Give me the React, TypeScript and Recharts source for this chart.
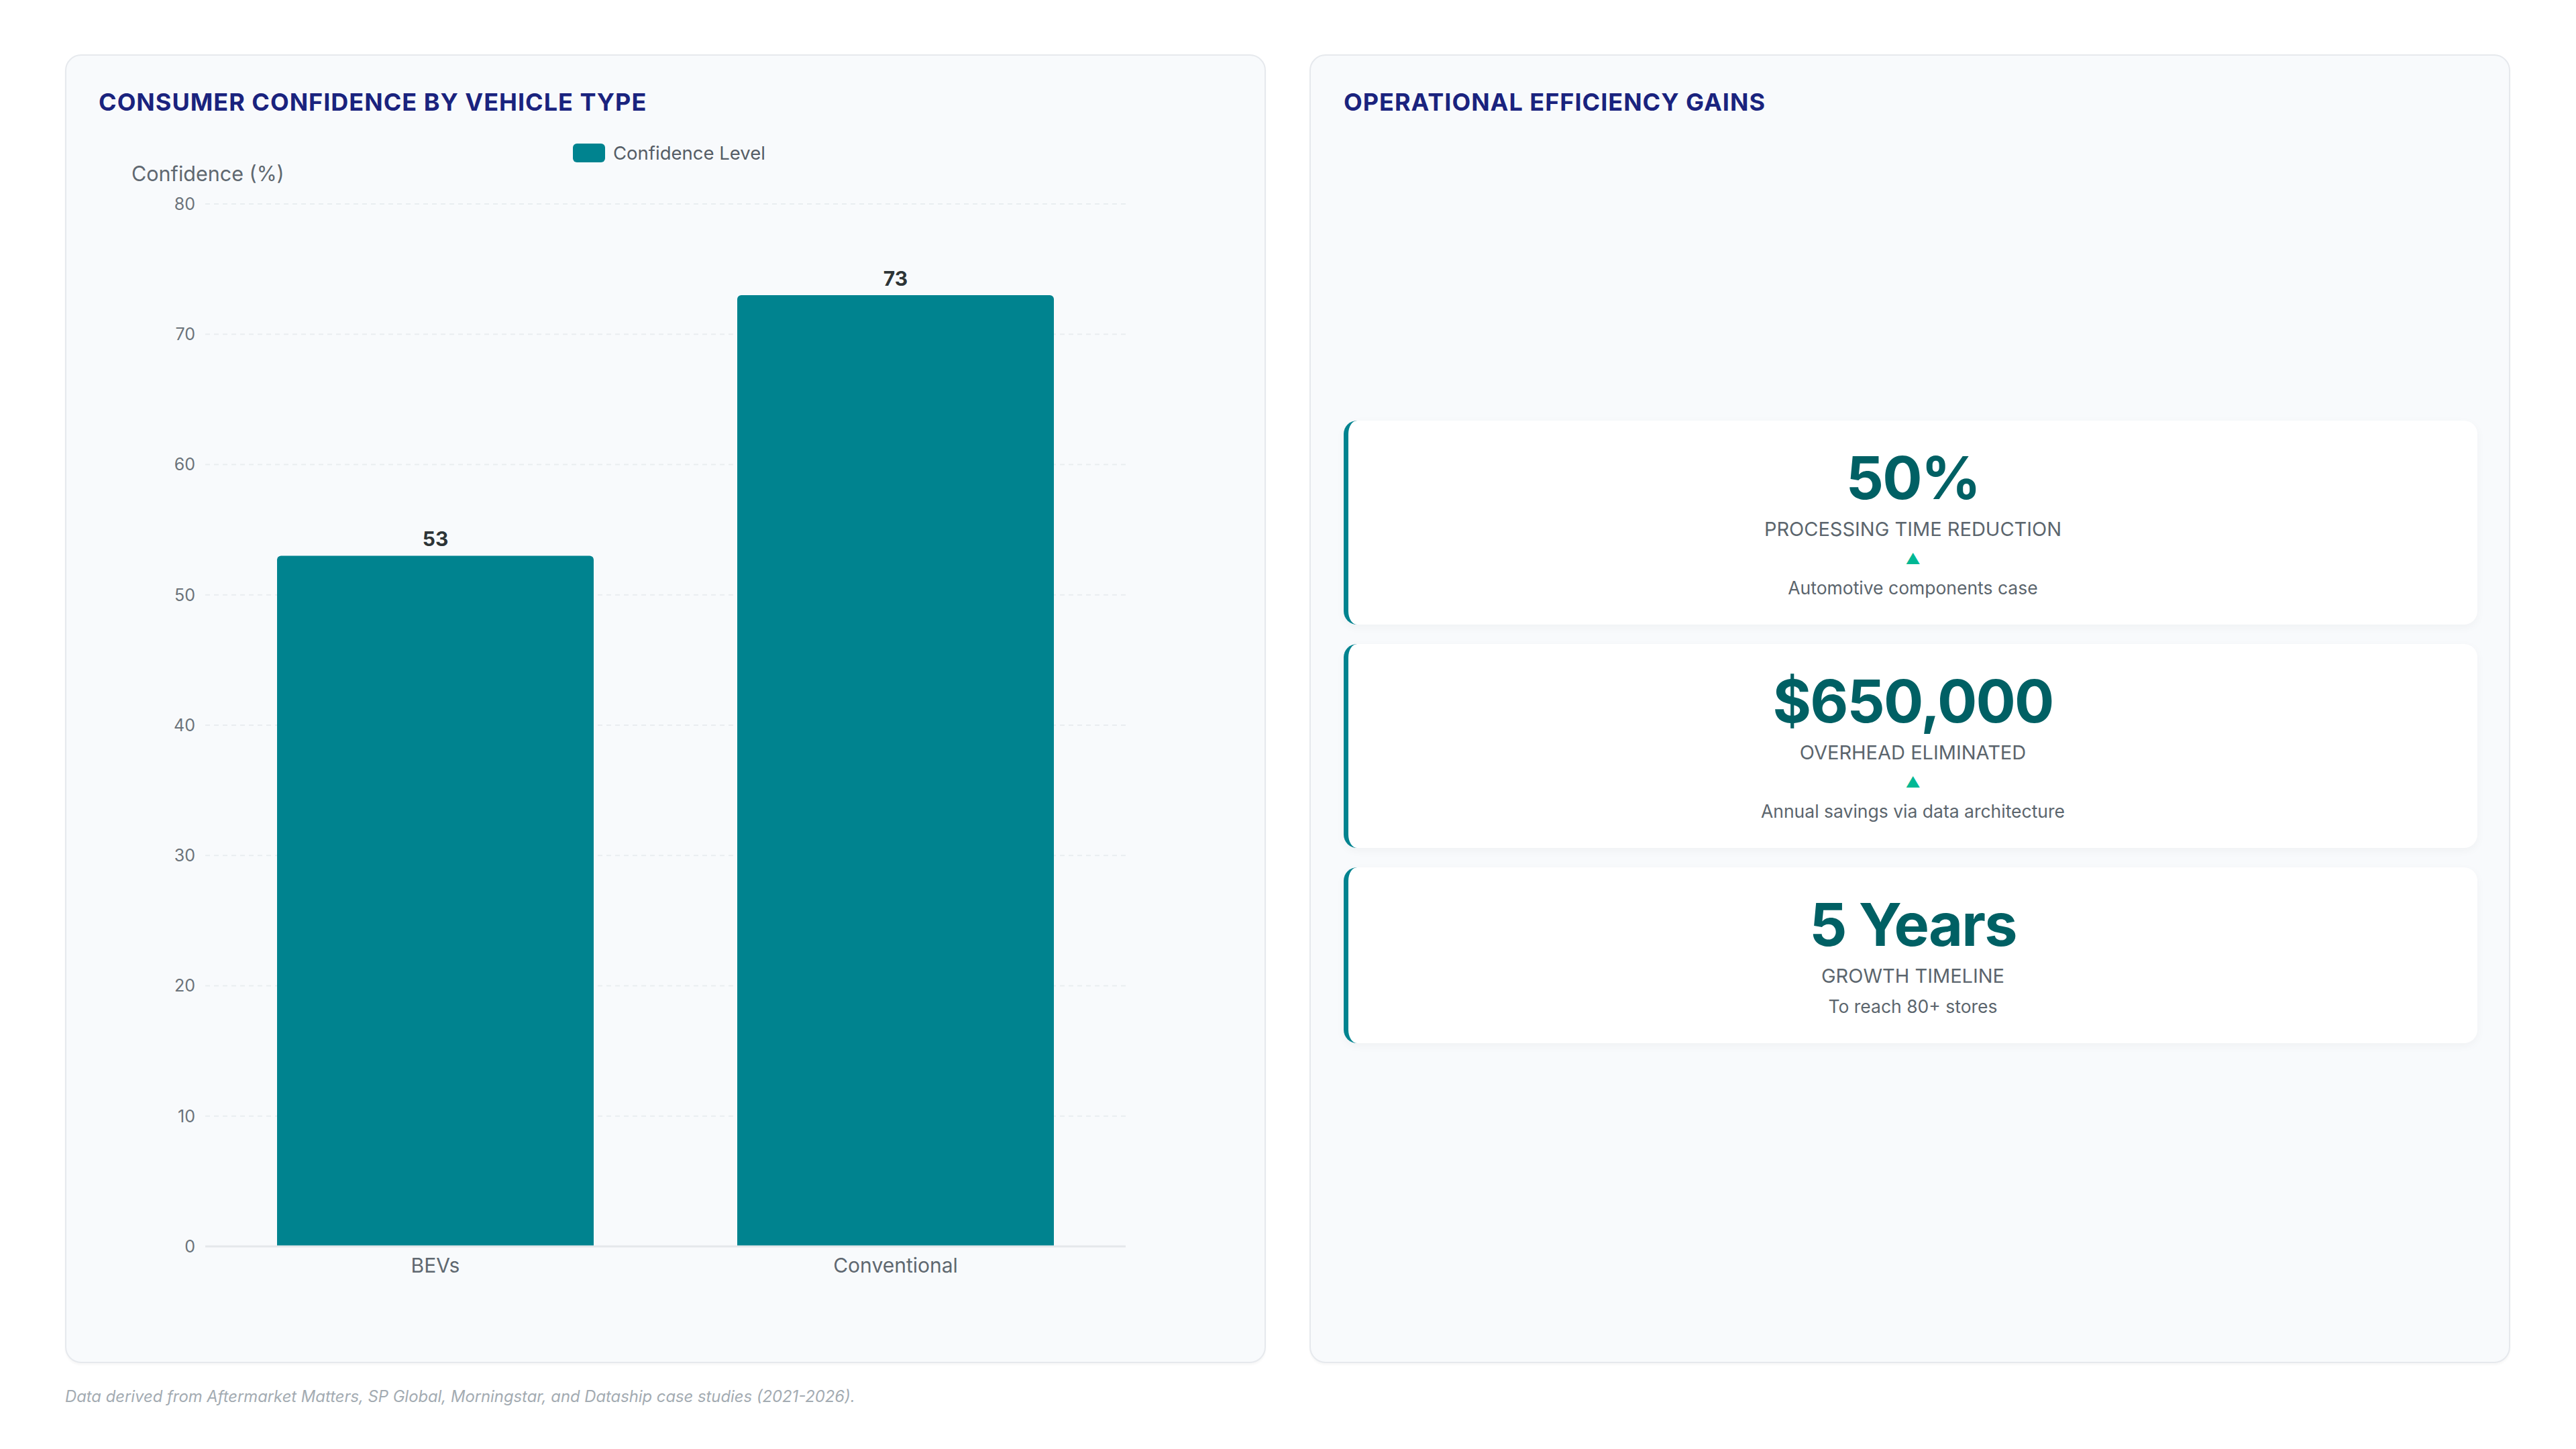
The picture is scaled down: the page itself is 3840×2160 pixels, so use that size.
import { Bar, BarChart, CartesianGrid, LabelList, Legend, XAxis, YAxis } from 'recharts';

const CATEGORIES = ['BEVs', 'Conventional'];
const CONFIDENCE = [53, 73];
const Y_TICKS = [0, 10, 20, 30, 40, 50, 60, 70, 80];
const SERIES_NAME = 'Confidence Level';

const KPI_VALUES = ['50%', '$650,000', '5 Years'];
const KPI_LABELS = ['PROCESSING TIME REDUCTION', 'OVERHEAD ELIMINATED', 'GROWTH TIMELINE'];
const KPI_NOTES = ['Automotive components case', 'Annual savings via data architecture', 'To reach 80+ stores'];
const KPI_TREND = [true, true, false];

const TEAL = '#00838f';
const NAVY = '#1a237e';
const FONT = 'Inter, "Noto Sans", sans-serif';

const chartData = CATEGORIES.map((name, i) => ({ name, value: CONFIDENCE[i] }));

const panelStyle: React.CSSProperties = {
  position: 'absolute',
  top: 81,
  width: 1790,
  height: 1951,
  boxSizing: 'border-box',
  background: '#f8fafc',
  border: '2px solid #e6e9ed',
  borderRadius: 24,
  boxShadow: '0 3px 3px rgba(0,0,0,0.03)',
};

const titleStyle: React.CSSProperties = {
  position: 'absolute',
  top: 130,
  fontSize: 36,
  lineHeight: '44px',
  fontWeight: 700,
  color: NAVY,
  letterSpacing: 1,
  whiteSpace: 'nowrap',
};

function LegendContent() {
  return (
    <div style={{ display: 'flex', alignItems: 'center', height: 40, fontFamily: FONT }}>
      <div style={{ width: 48, height: 28, borderRadius: 6, background: TEAL }} />
      <span style={{ marginLeft: 12, fontSize: 27.5, color: '#555d66', whiteSpace: 'nowrap' }}>{SERIES_NAME}</span>
    </div>
  );
}

function AxisTitle(props: any) {
  const { viewBox } = props;
  return (
    <text
      x={viewBox.x + 66}
      y={viewBox.y - 46}
      dominantBaseline="central"
      fontSize={30.5}
      fill="#5f6870"
      fontFamily={FONT}
    >
      Confidence (%)
    </text>
  );
}

function ConfidenceChart() {
  return (
    <BarChart
      width={1700}
      height={1760}
      data={chartData}
      margin={{ top: 84, right: 152, bottom: 22, left: 0 }}
      style={{ fontFamily: FONT }}
    >
      <CartesianGrid vertical={false} stroke="#e9edf0" strokeWidth={2} strokeDasharray="7 6" />
      <Legend
        verticalAlign="top"
        content={<LegendContent />}
        wrapperStyle={{ top: 28, left: 724, width: 'auto', margin: 0, padding: 0 }}
      />
      <XAxis
        dataKey="name"
        height={60}
        tickLine={false}
        tickSize={0}
        tickMargin={18}
        axisLine={{ stroke: '#e5e8eb', strokeWidth: 3 }}
        tick={{ fontSize: 30, fill: '#5f6870' }}
      />
      <YAxis
        width={176}
        domain={[0, 80]}
        ticks={Y_TICKS}
        axisLine={false}
        tickLine={false}
        tickSize={0}
        tickMargin={15}
        tick={{ fontSize: 25, fill: '#6b737a' }}
        label={{ content: <AxisTitle /> }}
      />
      <Bar dataKey="value" name={SERIES_NAME} fill={TEAL} barSize={472} radius={[6, 6, 0, 0]} isAnimationActive={false}>
        <LabelList dataKey="value" position="top" offset={14} fontSize={30} fontWeight={700} fill="#2d3436" />
      </Bar>
    </BarChart>
  );
}

function KpiCard({ index }: { index: number }) {
  return (
    <div
      style={{
        background: '#ffffff',
        borderLeft: `7px solid ${TEAL}`,
        borderRadius: 20,
        boxShadow: '0 4px 14px rgba(0,0,0,0.04)',
        padding: '41px 0 38px',
        textAlign: 'center',
      }}
    >
      <div style={{ fontSize: 88, lineHeight: '88px', fontWeight: 700, letterSpacing: -1.8, color: '#006064' }}>
        {KPI_VALUES[index]}
      </div>
      <div style={{ marginTop: 15, fontSize: 29, lineHeight: '36px', color: '#5b656d' }}>{KPI_LABELS[index]}</div>
      {KPI_TREND[index] && (
        <div style={{ marginTop: 10, fontSize: 22, lineHeight: '32px', color: '#00b894' }}>▲</div>
      )}
      <div style={{ marginTop: 10, fontSize: 26.5, lineHeight: '34px', color: '#5b656d' }}>{KPI_NOTES[index]}</div>
    </div>
  );
}

export default function App() {
  return (
    <div
      style={{
        position: 'absolute',
        left: 0,
        top: 0,
        width: 3840,
        height: 2160,
        background: '#ffffff',
        fontFamily: FONT,
        overflow: 'hidden',
      }}
    >
      <div style={{ ...panelStyle, left: 97 }} />
      <div style={{ ...panelStyle, left: 1952 }} />

      <div style={{ ...titleStyle, left: 147 }}>CONSUMER CONFIDENCE BY VEHICLE TYPE</div>
      <div style={{ ...titleStyle, left: 2003 }}>OPERATIONAL EFFICIENCY GAINS</div>

      <div style={{ position: 'absolute', left: 130, top: 180 }}>
        <ConfidenceChart />
      </div>

      <div
        style={{
          position: 'absolute',
          left: 2003,
          top: 627,
          width: 1690,
          display: 'flex',
          flexDirection: 'column',
          gap: 29,
        }}
      >
        {KPI_VALUES.map((_, i) => (
          <KpiCard key={i} index={i} />
        ))}
      </div>

      <div
        style={{
          position: 'absolute',
          left: 97,
          top: 2066,
          fontSize: 23.8,
          lineHeight: '32px',
          fontStyle: 'italic',
          color: '#a3abb2',
          whiteSpace: 'nowrap',
        }}
      >
        Data derived from Aftermarket Matters, SP Global, Morningstar, and Dataship case studies (2021-2026).
      </div>
    </div>
  );
}
